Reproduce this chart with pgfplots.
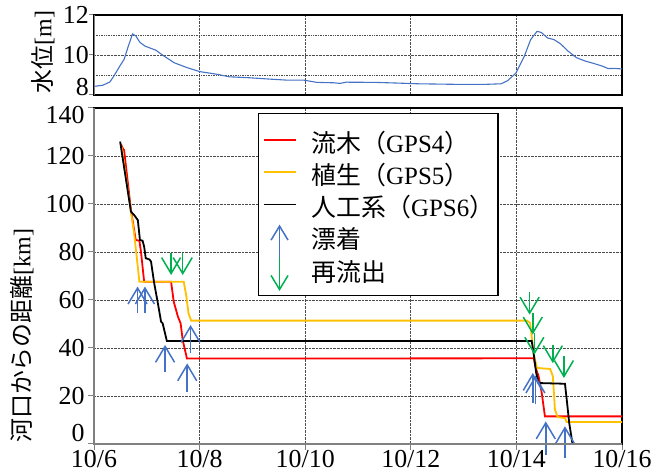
\documentclass[border=0pt]{standalone}
\usepackage{fontspec}
\setmainfont{Liberation Serif}
\newfontfamily\jp{Noto Sans CJK JP}
\usepackage{pgfplots}
\pgfplotsset{compat=1.18}
\usetikzlibrary{arrows.meta}
\definecolor{wblue}{RGB}{68,114,196}
\definecolor{agreen}{RGB}{0,176,80}
\definecolor{ayellow}{RGB}{255,192,0}
\definecolor{agray}{RGB}{128,128,128}
\newcommand\ls{\rule[-6bp]{0pt}{32bp}}
\pgfplotsset{
  common/.style={
    scale only axis, width=528bp, xmin=6, xmax=16,
    grid style={densely dotted, black!70, line width=0.7bp},
    /pgf/number format/assume math mode=true,
    tick style={agray, line width=1bp},
    tick align=outside, tick pos=left,
    axis line style={black, line width=1.3bp},
    tick label style={font=\fontsize{26}{30}\selectfont},
    label style={font=\fontsize{24}{30}\selectfont},
  }
}
\begin{document}
\begin{tikzpicture}[x=1bp,y=1bp]
\path[use as bounding box] (0,0) rectangle (656,476);
% ---------------- top: water level ----------------
\begin{axis}[common, at={(94bp,381bp)}, anchor=south west, height=80bp,
  ymin=8, ymax=12, ytick={8,10,12}, minor ytick={9,11},
  yticklabels={\vphantom{8}\smash{\raisebox{8bp}{8}},10,12},
  xtick={6,8,...,16}, xticklabels={}, xtick style={draw=none},
  grid=both, minor grid style={densely dotted, black!70, line width=0.7bp},
  major tick length=5bp, minor tick length=0bp,
  yticklabel style={inner xsep=0bp},
  ylabel={{\jp 水位}[m]},
  ylabel style={at={(rel axis cs:-0.0966,0.5375)}, anchor=center, inner sep=0pt},
]
\addplot[wblue, line width=1.1bp] coordinates {
(6.00,8.43) (6.17,8.49) (6.30,8.65) (6.37,8.92) (6.49,9.45) (6.57,9.78) (6.65,10.44)
(6.73,11.05) (6.79,10.96) (6.87,10.63) (6.97,10.44) (7.17,10.24) (7.33,9.94)
(7.52,9.61) (7.76,9.37) (8.00,9.17) (8.32,9.04) (8.56,8.91) (8.95,8.86)
(9.35,8.79) (9.67,8.74) (9.98,8.74) (10.22,8.63) (10.54,8.61) (10.66,8.58)
(10.78,8.64) (11.33,8.63) (11.81,8.59) (12.13,8.56) (12.92,8.53) (13.40,8.53)
(13.71,8.56) (13.83,8.71) (13.99,9.09) (14.15,9.94) (14.27,10.77) (14.39,11.18)
(14.47,11.13) (14.59,10.85) (14.71,10.77) (14.83,10.57) (14.98,10.19)
(15.14,9.86) (15.30,9.70) (15.46,9.58) (15.62,9.45) (15.74,9.32) (15.86,9.33) (16.00,9.30)
};
\draw[agray, line width=1.5bp] (rel axis cs:0,0) -- (rel axis cs:0,1);
\end{axis}
% ---------------- bottom: distance ----------------
\begin{axis}[common, at={(94bp,32bp)}, anchor=south west, height=336bp,
  ymin=0, ymax=140, ytick={0,20,...,140},
  yticklabels={\vphantom{0}\smash{\raisebox{11bp}{0}},20,40,60,80,100,120,\vphantom{0}\smash{\raisebox{-7bp}{140}}},
  xtick={6,8,...,16}, xticklabels={10/6,10/8,10/10,10/12,10/14,10/16},
  grid=major, major tick length=6bp,
  xticklabel style={inner ysep=0bp},
  clip=false,
  ylabel={{\jp 河口からの距離}[km]},
  ylabel style={at={(rel axis cs:-0.1364,0.003)}, anchor=west, inner sep=0pt},
  legend style={at={(0.3106,0.985)}, anchor=north west, draw=black, line width=1.3bp,
    font=\fontsize{25}{30}\selectfont, inner xsep=4bp, inner ysep=12.5bp,
    nodes={inner sep=0bp}, row sep=4.75bp, column sep=15bp},
  legend cell align=left,
  legend image code/.code={\draw[#1, line width=1.8bp] (0bp,0bp) -- (32bp,0bp);},
]
\addplot[red, line width=1.8bp] coordinates {
(6.508,125) (6.55,123) (6.57,122.5) (6.70,97.5) (6.79,85) (6.86,84.7) (6.89,80)
(6.95,67.6) (7.46,67.6) (7.51,59.3) (7.59,53) (7.64,50.3) (7.68,43.3) (7.76,35.6)
(14.33,35.7) (14.36,32.1) (14.42,28.2) (14.48,21.25) (14.54,11.5) (16.0,11.5)
};
\addlegendentry{\ls{\jp 流木（}GPS4{\jp ）}}
\addplot[ayellow, line width=1.8bp] coordinates {
(6.52,124) (6.58,115) (6.76,87.8) (6.86,67.6) (7.70,67.6) (7.75,61.4) (7.79,54.4)
(7.84,51.4) (14.20,51.4) (14.26,50.4) (14.33,37.2) (14.39,31.7) (14.64,31.25)
(14.69,28.2) (14.73,14.3) (14.78,11.25) (14.92,10.8) (14.95,9.2) (16.0,9.2)
};
\addlegendentry{\ls{\jp 植生（}GPS5{\jp ）}}
\addplot[black, line width=1.8bp] coordinates {
(6.495,126) (6.70,96.8) (6.76,95.4) (6.83,93.3) (6.87,85) (6.92,84.7) (6.95,82.2)
(6.98,77.4) (7.05,76.9) (7.08,76) (7.14,67) (7.21,58.6) (7.27,51) (7.30,50.3)
(7.38,42.9) (14.29,42.9) (14.33,37.2) (14.375,29.6) (14.42,25.4) (14.92,25.1)
(14.96,17.1) (15.0,8.75) (15.06,0.4)
};
\addlegendentry{\ls{\jp 人工系（}GPS6{\jp ）}}
\addlegendimage{legend image code/.code={\draw[wblue, line width=1.5bp, overlay, -{Straight Barb[length=14bp,width=17bp]}] (16bp,-22bp) -- (16bp,12bp);}}
\addlegendentry{\ls{\jp 漂着}}
\addlegendimage{legend image code/.code={\draw[agreen, line width=1.5bp, overlay, -{Straight Barb[length=14bp,width=17bp]}] (16bp,12bp) -- (16bp,-22bp);}}
\addlegendentry{\ls{\jp 再流出}}
% blue up arrows (drift ashore)
\addplot[wblue, line width=1.5bp, -{Straight Barb[length=16bp,width=19bp]},
  quiver={u=0, v=\thisrow{v}}, forget plot] table {
x y v
6.825 54.4 11.2
6.965 54.4 11.2
7.346 30.1 11.2
7.829 37.8 11.8
7.765 21.8 11.8
14.31 17.0 12.6
14.36 16.5 12.0
14.556 -4.5 13.9
14.92 -6.0 13.4
};
% green down arrows (re-outflow)
\addplot[agreen, line width=1.5bp, -{Straight Barb[length=16bp,width=19bp]},
  quiver={u=0, v=\thisrow{v}}, forget plot] table {
x y v
7.46 79.4 -9.0
7.68 79.4 -9.0
14.25 63.2 -9.3
14.31 54.5 -8.9
14.34 46.3 -9.1
14.69 41.4 -7.7
14.90 36.5 -9.0
};
\draw[agray, line width=2bp] (rel axis cs:0,1) -- (rel axis cs:0,0) -- (rel axis cs:1,0);
\end{axis}
\end{tikzpicture}
\end{document}
